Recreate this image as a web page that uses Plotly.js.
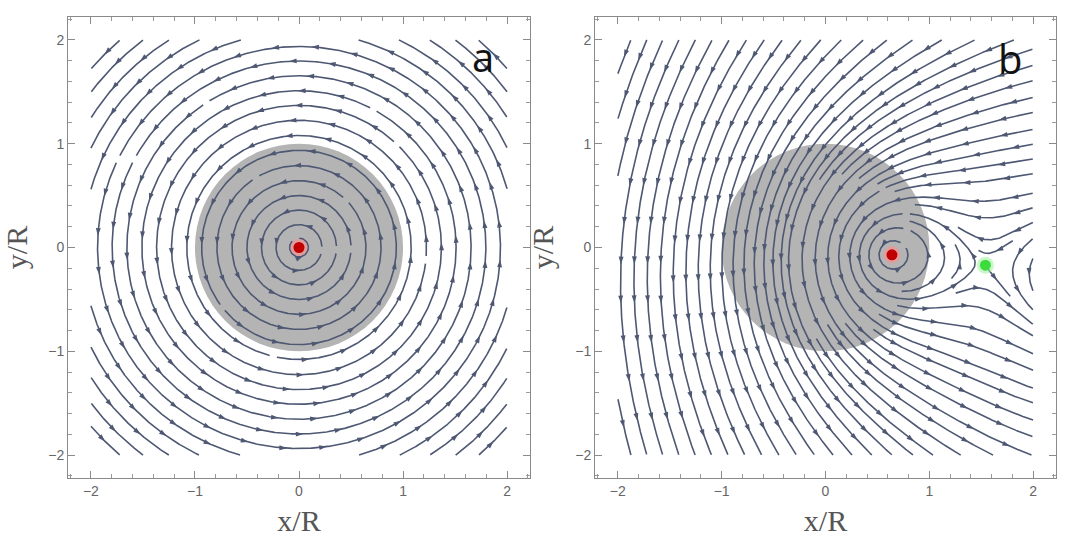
<!DOCTYPE html>
<html>
<head>
<meta charset="utf-8">
<script src="https://cdn.plot.ly/plotly-3.0.1.min.js"></script>
<style>html,body{margin:0;padding:0;background:#fff}#chart{width:1072px;height:549px}</style>
</head>
<body>
<div id="chart"></div>
<script>
// values
var axisRange = [-2.22, 2.22];
var fieldBox = [-2, 2];
var discCenter = [0, 0];
var discRadius = 1;
var coreA = [0, 0];          // red dot, panel a
var coreB = [0.64, -0.07];   // red dot, panel b
var saddleB = [1.54, -0.17]; // green dot, panel b
var partnerB = [2.6, -0.29]; // second swirl just outside the frame, panel b
var driftB = 0.37;
var panelLabels = ['a', 'b'];
var labelPos = [[1.77, 1.84], [1.78, 1.82]];
var lineSpacing = [0.14, 0.14];

var lineColor = 'rgb(78,88,115)';

// panel a: plain rotation about the core
function fieldA(x, y) {
  return [-(y - coreA[1]), x - coreA[0]];
}

// panel b: two co-rotating swirls plus a weak drift, balanced at the saddle
var sdx = saddleB[0] - coreB[0], sdy = saddleB[1] - coreB[1];
var d1 = Math.hypot(sdx, sdy);
var d2 = Math.hypot(partnerB[0] - saddleB[0], partnerB[1] - saddleB[1]);
var driftDir = [sdy / d1, -sdx / d1];
var gamma2 = (1 / d1 - driftB) * d2;
function swirl(x, y, c, g) {
  var dx = x - c[0], dy = y - c[1], r2 = dx * dx + dy * dy;
  if (r2 < 1e-12) return [0, 0];
  return [-dy * g / r2, dx * g / r2];
}
function fieldB(x, y) {
  var a = swirl(x, y, coreB, 1), b = swirl(x, y, partnerB, gamma2);
  return [a[0] + b[0] + driftB * driftDir[0], a[1] + b[1] + driftB * driftDir[1]];
}

function streamlines(field, dsep, lo, hi, firstSeed) {
  var h = 0.008, dtest = dsep * 0.5, cell = dsep;
  var skip = Math.ceil(1.5 * dtest / h);
  var grid = {}, lines = [], nextId = 0, queue = [];
  function add(p) {
    var k = Math.floor((p.x - lo) / cell) + ',' + Math.floor((p.y - lo) / cell);
    (grid[k] = grid[k] || []).push(p);
  }
  function near(x, y, d, id, arc) {
    var ci = Math.floor((x - lo) / cell), cj = Math.floor((y - lo) / cell);
    for (var i = ci - 1; i <= ci + 1; i++) for (var j = cj - 1; j <= cj + 1; j++) {
      var b = grid[i + ',' + j];
      if (!b) continue;
      for (var k = 0; k < b.length; k++) {
        var p = b[k];
        if (p.id === id && Math.abs(p.arc - arc) < skip) continue;
        var ex = p.x - x, ey = p.y - y;
        if (ex * ex + ey * ey < d * d) return true;
      }
    }
    return false;
  }
  function unit(x, y) {
    var v = field(x, y), s = Math.hypot(v[0], v[1]);
    return s < 1e-6 ? null : [v[0] / s, v[1] / s];
  }
  function trace(sx, sy) {
    var id = nextId++, added = [];
    var seed = {x: sx, y: sy, id: id, arc: 0};
    add(seed); added.push(seed);
    var halves = [];
    [1, -1].forEach(function (sgn) {
      var x = sx, y = sy, arc = 0, pts = [];
      for (var n = 0; n < 4000; n++) {
        var u1 = unit(x, y); if (!u1) break;
        var u2 = unit(x + sgn * u1[0] * h / 2, y + sgn * u1[1] * h / 2); if (!u2) break;
        if (u1[0] * u2[0] + u1[1] * u2[1] < 0.5) break;
        var nx = x + sgn * u2[0] * h, ny = y + sgn * u2[1] * h;
        if (nx < lo || nx > hi || ny < lo || ny > hi) break;
        arc += sgn;
        if (near(nx, ny, dtest, id, arc)) break;
        var p = {x: nx, y: ny, id: id, arc: arc};
        add(p); added.push(p); pts.push(p);
        x = nx; y = ny;
      }
      halves.push(pts);
    });
    var pts = halves[1].slice().reverse().concat([seed], halves[0]);
    if (pts.length * h < 0.25) {
      added.forEach(function (p) { p.x = 1e9; p.y = 1e9; });
      return null;
    }
    lines.push(pts);
    return pts;
  }
  // slide a seed along its own streamline so that loop gaps do not line up
  function slide(x, y, dist) {
    var n = Math.round(dist / h);
    for (var i = 0; i < n; i++) {
      var u = unit(x, y); if (!u) return null;
      var nx = x + u[0] * h, ny = y + u[1] * h;
      if (nx < lo || nx > hi || ny < lo || ny > hi) return null;
      x = nx; y = ny;
    }
    return [x, y];
  }
  function trySeed(x, y) {
    if (x < lo || x > hi || y < lo || y > hi) return;
    if (!unit(x, y)) return;
    if (near(x, y, dsep * 0.9, -2, 0)) return;
    var moved = slide(x, y, ((nextId * 0.618) % 1) * 2.2);
    if (moved && !near(moved[0], moved[1], dsep * 0.9, -2, 0)) { x = moved[0]; y = moved[1]; }
    var pts = trace(x, y);
    if (pts) queue.push(pts);
  }
  function drain() {
    while (queue.length) {
      var line = queue.shift();
      var stepN = Math.max(1, Math.round(dsep / h / 2));
      for (var i = 0; i < line.length; i += stepN) {
        var p = line[i], u = unit(p.x, p.y);
        if (!u) continue;
        trySeed(p.x - u[1] * dsep, p.y + u[0] * dsep);
        trySeed(p.x + u[1] * dsep, p.y - u[0] * dsep);
      }
    }
  }
  trySeed(firstSeed[0], firstSeed[1]);
  drain();
  for (var gx = lo + dsep / 2; gx < hi; gx += dsep / 2) {
    for (var gy = lo + dsep / 2; gy < hi; gy += dsep / 2) {
      trySeed(gx, gy);
      drain();
    }
  }
  return {lines: lines, h: h};
}

function streamTraces(result, xa, ya) {
  var lx = [], ly = [], ax = [], ay = [], ang = [];
  var arrowGap = 0.38;
  result.lines.forEach(function (pts) {
    pts.forEach(function (p) { lx.push(p.x); ly.push(p.y); });
    lx.push(null); ly.push(null);
    var len = pts.length * result.h;
    var n = Math.max(1, Math.floor(len / arrowGap));
    var off = (len - (n - 1) * arrowGap) / 2;
    for (var k = 0; k < n; k++) {
      var i = Math.round((off + k * arrowGap) / result.h);
      i = Math.min(Math.max(i, 1), pts.length - 2);
      var dx = pts[i + 1].x - pts[i - 1].x, dy = pts[i + 1].y - pts[i - 1].y;
      ax.push(pts[i].x); ay.push(pts[i].y);
      ang.push(Math.atan2(dx, dy) * 180 / Math.PI);
    }
  });
  return [
    {type: 'scatter', mode: 'lines', x: lx, y: ly, xaxis: xa, yaxis: ya,
     line: {color: lineColor, width: 1.6}, hoverinfo: 'skip', showlegend: false},
    {type: 'scatter', mode: 'markers', x: ax, y: ay, xaxis: xa, yaxis: ya,
     marker: {symbol: 'arrow', size: 8, angle: ang, color: lineColor, line: {width: 0}},
     hoverinfo: 'skip', showlegend: false}
  ];
}

function dotTraces(pts, colors, xa, ya) {
  return [
    {type: 'scatter', mode: 'markers', x: pts.map(function (p) { return p[0]; }),
     y: pts.map(function (p) { return p[1]; }), xaxis: xa, yaxis: ya,
     marker: {size: 17, color: colors.map(function (c) { return c[1]; })},
     hoverinfo: 'skip', showlegend: false},
    {type: 'scatter', mode: 'markers', x: pts.map(function (p) { return p[0]; }),
     y: pts.map(function (p) { return p[1]; }), xaxis: xa, yaxis: ya,
     marker: {size: 11, color: colors.map(function (c) { return c[0]; })},
     hoverinfo: 'skip', showlegend: false}
  ];
}

var resA = streamlines(fieldA, lineSpacing[0], fieldBox[0], fieldBox[1], [0.5, 0.02]);
var resB = streamlines(fieldB, lineSpacing[1], fieldBox[0], fieldBox[1], [-0.3, 0.5]);

var data = [].concat(
  streamTraces(resA, 'x', 'y'),
  streamTraces(resB, 'x2', 'y2'),
  dotTraces([coreA], [['#c00000', 'rgba(255,140,140,0.6)']], 'x', 'y'),
  dotTraces([coreB, saddleB], [['#c00000', 'rgba(255,140,140,0.6)'], ['#3ddc3d', 'rgba(150,240,150,0.5)']], 'x2', 'y2')
);

function axis(domain, anchor, title) {
  return {
    domain: domain, anchor: anchor, range: axisRange.slice(), autorange: false,
    tickmode: 'linear', tick0: 0, dtick: 1,
    ticks: 'inside', ticklen: 7, tickcolor: '#8a8a8a', tickwidth: 1,
    minor: {ticks: 'inside', ticklen: 4, dtick: 0.2, tick0: 0, tickcolor: '#9a9a9a'},
    showline: true, linecolor: '#8a8a8a', linewidth: 1, mirror: 'allticks',
    showgrid: false, zeroline: false,
    tickfont: {family: 'Liberation Sans, Arial, sans-serif', size: 14, color: '#666'},
    title: title ? {text: title, font: {family: 'Liberation Serif, Times New Roman, serif', size: 30, color: '#555'}, standoff: 12} : undefined
  };
}

var xDomA = [0, (530 - 68) / 988], xDomB = [(595 - 68) / 988, 1];

var layout = {
  width: 1072, height: 549,
  margin: {l: 68, r: 16, t: 17, b: 71},
  paper_bgcolor: '#fff', plot_bgcolor: '#fff',
  showlegend: false,
  xaxis: axis(xDomA, 'y', 'x/R'),
  yaxis: axis([0, 1], 'x', 'y/R'),
  xaxis2: axis(xDomB, 'y2', 'x/R'),
  yaxis2: axis([0, 1], 'x2', 'y/R'),
  shapes: [
    {type: 'circle', xref: 'x', yref: 'y', x0: discCenter[0] - discRadius, x1: discCenter[0] + discRadius,
     y0: discCenter[1] - discRadius, y1: discCenter[1] + discRadius,
     fillcolor: 'rgb(180,180,180)', line: {width: 0}, layer: 'below'},
    {type: 'circle', xref: 'x2', yref: 'y2', x0: discCenter[0] - discRadius, x1: discCenter[0] + discRadius,
     y0: discCenter[1] - discRadius, y1: discCenter[1] + discRadius,
     fillcolor: 'rgb(180,180,180)', line: {width: 0}, layer: 'below'}
  ],
  annotations: [
    {xref: 'x', yref: 'y', x: labelPos[0][0], y: labelPos[0][1], text: panelLabels[0], showarrow: false,
     font: {family: 'Open Sans, Liberation Sans, sans-serif', size: 40, color: '#111'}},
    {xref: 'x2', yref: 'y2', x: labelPos[1][0], y: labelPos[1][1], text: panelLabels[1], showarrow: false,
     font: {family: 'Open Sans, Liberation Sans, sans-serif', size: 40, color: '#111'}}
  ]
};

Plotly.newPlot('chart', data, layout, {displayModeBar: false, staticPlot: true});
</script>
</body>
</html>
